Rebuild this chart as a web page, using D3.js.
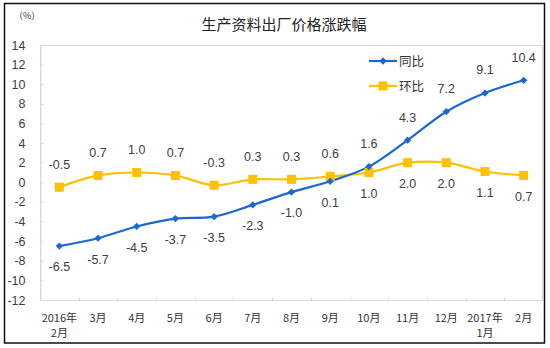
<!DOCTYPE html>
<html>
<head>
<meta charset="utf-8">
<script src="https://cdn.jsdelivr.net/npm/d3@7/dist/d3.min.js"></script>
<style>
  html, body { margin: 0; padding: 0; background: #fff; }
  svg { display: block; }
</style>
</head>
<body>
<svg id="chart" width="550" height="348"></svg>
<script>
// Months (two-line labels where the year changes)
const months = [
  ["2016年", "2月"], ["3月"], ["4月"], ["5月"], ["6月"], ["7月"], ["8月"],
  ["9月"], ["10月"], ["11月"], ["12月"], ["2017年", "1月"], ["2月"]
];
// Year-on-year change (%)
const yoy = [-6.5, -5.7, -4.5, -3.7, -3.5, -2.3, -1.0, 0.1, 1.6, 4.3, 7.2, 9.1, 10.4];
// Month-on-month change (%)
const mom = [-0.5, 0.7, 1.0, 0.7, -0.3, 0.3, 0.3, 0.6, 1.0, 2.0, 2.0, 1.1, 0.7];
// Value axis ticks
const yTicks = [14, 12, 10, 8, 6, 4, 2, 0, -2, -4, -6, -8, -10, -12];
const seriesNames = ["同比", "环比"];

const BLUE = "#1a68d4";
const GOLD = "#ffc000";
const TEXT = "#404040";
const NUM_FONT = "'Liberation Sans', Arial, sans-serif";
const CJK_FONT = "'Noto Sans CJK SC', sans-serif";

// Plain hyphen-minus for negative numbers
const locale = d3.formatLocale({ decimal: ".", thousands: ",", grouping: [3], currency: ["", ""], minus: "-" });
const fmtInt = locale.format("d");
const fmt = locale.format(".1f");

const svg = d3.select("#chart");
const plot = { left: 40, right: 543, top: 45, bottom: 300 };

const x = d3.scaleBand()
  .domain(d3.range(months.length))
  .range([plot.left, plot.right]);
const y = d3.scaleLinear()
  .domain([d3.min(yTicks), d3.max(yTicks)])
  .range([plot.bottom, plot.top]);
const cx = i => x(i) + x.bandwidth() / 2;

// Outer frame
svg.append("rect")
  .attr("x", 4.5).attr("y", 3.5).attr("width", 540).attr("height", 339.5)
  .attr("fill", "none").attr("stroke", "#111").attr("stroke-width", 1.5);

// Plot-area border
svg.append("rect")
  .attr("x", plot.left + 0.5).attr("y", plot.top + 0.5)
  .attr("width", plot.right - plot.left - 1).attr("height", plot.bottom - plot.top)
  .attr("fill", "none").attr("stroke", "#d9d9d9").attr("stroke-width", 1);

// Title and unit
svg.append("text")
  .attr("x", 284).attr("y", 30)
  .attr("text-anchor", "middle")
  .attr("font-family", CJK_FONT).attr("font-size", 15)
  .attr("fill", "#222")
  .text("生产资料出厂价格涨跌幅");
svg.append("text")
  .attr("x", 14).attr("y", 19)
  .attr("font-family", CJK_FONT).attr("font-size", 9)
  .attr("fill", "#333")
  .text("（%）");

// Y axis
const yAxis = svg.append("g")
  .attr("transform", `translate(${plot.left + 0.5},0)`)
  .call(d3.axisLeft(y).tickValues(yTicks).tickSize(-3).tickPadding(15).tickFormat(fmtInt));
yAxis.select(".domain").attr("stroke", "#d9d9d9");
yAxis.selectAll(".tick line").attr("stroke", "#d9d9d9");
yAxis.selectAll("text")
  .attr("font-family", NUM_FONT).attr("font-size", 12.5).attr("fill", TEXT);

// X axis: ticks at band boundaries pointing into the plot
const xAxis = svg.append("g")
  .attr("transform", `translate(0,${plot.bottom + 0.5})`);
xAxis.append("line")
  .attr("x1", plot.left).attr("x2", plot.right)
  .attr("stroke", "#d9d9d9");
xAxis.selectAll("line.tk")
  .data(d3.range(1, months.length))
  .join("line").attr("class", "tk")
  .attr("x1", i => Math.round(x(i)) + 0.5).attr("x2", i => Math.round(x(i)) + 0.5)
  .attr("y1", 0).attr("y2", -3)
  .attr("stroke", "#d9d9d9");
const xl = xAxis.selectAll("text.xl")
  .data(months)
  .join("text").attr("class", "xl")
  .attr("text-anchor", "middle")
  .attr("font-family", CJK_FONT).attr("font-size", 11)
  .attr("fill", "#333");
xl.selectAll("tspan")
  .data((d, i) => d.map(s => ({ s, i })))
  .join("tspan")
  .attr("x", d => cx(d.i))
  .attr("y", (d, j) => 21 + j * 15)
  .text(d => d.s);

// Smoothed lines
const line = d3.line().x((d, i) => cx(i)).y(d => y(d)).curve(d3.curveCatmullRom.alpha(0.5));
svg.append("path").datum(mom)
  .attr("d", line).attr("fill", "none")
  .attr("stroke", GOLD).attr("stroke-width", 2.2);
svg.append("path").datum(yoy)
  .attr("d", line).attr("fill", "none")
  .attr("stroke", BLUE).attr("stroke-width", 2.2);

// Markers
const diamond = d3.symbol().type(d3.symbolDiamond2).size(34);
svg.append("g").selectAll("rect")
  .data(mom)
  .join("rect")
  .attr("x", (d, i) => cx(i) - 4.5).attr("y", d => y(d) - 4.5)
  .attr("width", 9).attr("height", 9)
  .attr("fill", GOLD);
svg.append("g").selectAll("path")
  .data(yoy)
  .join("path")
  .attr("transform", (d, i) => `translate(${cx(i)},${y(d)})`)
  .attr("d", diamond)
  .attr("fill", BLUE);

// Data labels: year-on-year below while the lines are still apart, above once it rises; month-on-month the reverse
function labels(data, aboveTest) {
  svg.append("g").selectAll("text")
    .data(data)
    .join("text")
    .attr("x", (d, i) => cx(i))
    .attr("y", (d, i) => y(d) + (aboveTest(i) ? -23 : 21))
    .attr("dy", "0.35em")
    .attr("text-anchor", "middle")
    .attr("font-family", NUM_FONT).attr("font-size", 12.5)
    .attr("fill", TEXT)
    .text(d => fmt(d));
}
labels(yoy, i => yoy[i] > 1);
labels(mom, i => yoy[i] <= 1);

// Legend
const legend = svg.append("g");
[[seriesNames[0], BLUE, "diamond"], [seriesNames[1], GOLD, "square"]].forEach(([name, color, shape], k) => {
  const ly = 61 + k * 25;
  const g = legend.append("g");
  g.append("line")
    .attr("x1", 369).attr("x2", 397).attr("y1", ly).attr("y2", ly)
    .attr("stroke", color).attr("stroke-width", 2.2);
  if (shape === "diamond") {
    g.append("path").attr("transform", `translate(383,${ly})`).attr("d", diamond).attr("fill", color);
  } else {
    g.append("rect").attr("x", 378.5).attr("y", ly - 4.5).attr("width", 9).attr("height", 9).attr("fill", color);
  }
  g.append("text")
    .attr("x", 399).attr("y", ly).attr("dy", "0.36em")
    .attr("font-family", CJK_FONT).attr("font-size", 12.5)
    .attr("fill", "#333")
    .text(name);
});
</script>
</body>
</html>
